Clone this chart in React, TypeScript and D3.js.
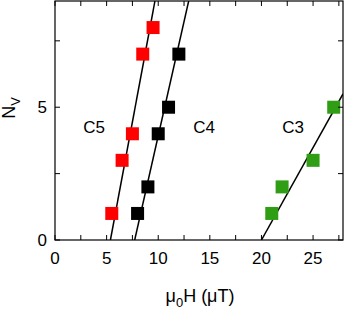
import React from "react";
import * as d3 from "d3";

// data: field (uT) vs vortex number
const c5Field = [5.5, 6.5, 7.5, 8.5, 9.5];
const c5N = [1, 3, 4, 7, 8];
const c4Field = [8, 9, 10, 11, 12];
const c4N = [1, 2, 4, 5, 7];
const c3Field = [21, 22, 25, 27];
const c3N = [1, 2, 3, 5];

// linear fits, as [field, N] end points
const c5Fit = [[5.37, 0], [9.68, 9]];
const c4Fit = [[7.72, 0], [12.95, 9]];
const c3Fit = [[20.0, 0], [27.9, 5.5]];

const xTicks = [0, 5, 10, 15, 20, 25];
const xMinor = [2.5, 7.5, 12.5, 17.5, 22.5, 27.5];
const yTicks = [0, 5];
const yMinor = [2.5, 7.5];

const W = 345;
const H = 310;
const m = { left: 55, right: 2, top: 1, bottom: 70 };

export default function App() {
  const x = d3.scaleLinear().domain([0, 27.9]).range([m.left, W - m.right]);
  const y = d3.scaleLinear().domain([0, 9]).range([H - m.bottom, m.top]);
  const line = d3.line<number[]>().x(d => x(d[0])).y(d => y(d[1]));

  const series = [
    { f: c5Field, n: c5N, fit: c5Fit, color: "#ff0000" },
    { f: c4Field, n: c4N, fit: c4Fit, color: "#000000" },
    { f: c3Field, n: c3N, fit: c3Fit, color: "#2f9e14" },
  ];
  const sq = 13;
  const tk = 5;
  const x0 = m.left, x1 = W - m.right, y0 = H - m.bottom, y1 = m.top;
  const font = "'Liberation Sans', Arial, sans-serif";

  return (
    <svg width={W} height={H} style={{ position: "absolute", left: 0, top: 0 }} fontFamily={font}>
      <defs>
        <clipPath id="plot">
          <rect x={x0} y={y1} width={x1 - x0} height={y0 - y1} />
        </clipPath>
      </defs>
      <g clipPath="url(#plot)">
        {series.map((s, i) => (
          <path key={"l" + i} d={line(s.fit) || ""} fill="none" stroke="#000" strokeWidth={1.5} />
        ))}
      </g>
      {series.map((s, i) =>
        s.f.map((v, j) => (
          <rect key={i + "-" + j} x={x(v) - sq / 2} y={y(s.n[j]) - sq / 2} width={sq} height={sq} fill={s.color} />
        ))
      )}
      <rect x={x0} y={y1} width={x1 - x0} height={y0 - y1} fill="none" stroke="#000" strokeWidth={1.2} />
      {xTicks.concat(xMinor).map(t => (
        <g key={"xt" + t}>
          <line x1={x(t)} x2={x(t)} y1={y0} y2={y0 - tk} stroke="#000" />
          <line x1={x(t)} x2={x(t)} y1={y1} y2={y1 + tk} stroke="#000" />
        </g>
      ))}
      {yTicks.concat(yMinor).map(t => (
        <g key={"yt" + t}>
          <line x1={x0} x2={x0 + tk} y1={y(t)} y2={y(t)} stroke="#000" />
          <line x1={x1} x2={x1 - tk} y1={y(t)} y2={y(t)} stroke="#000" />
        </g>
      ))}
      {xTicks.map(t => (
        <text key={"xl" + t} x={x(t)} y={y0 + 24} textAnchor="middle" fontSize={17}>{t}</text>
      ))}
      {yTicks.map(t => (
        <text key={"yl" + t} x={x0 - 8} y={y(t) + 6} textAnchor="end" fontSize={17}>{t}</text>
      ))}
      <text x={94} y={133} textAnchor="middle" fontSize={17}>C5</text>
      <text x={204} y={133} textAnchor="middle" fontSize={17}>C4</text>
      <text x={293} y={133} textAnchor="middle" fontSize={17}>C3</text>
      <text x={200} y={302} textAnchor="middle" fontSize={18}>
        μ<tspan fontSize={13} dy={5}>0</tspan><tspan dy={-5}>H (μT)</tspan>
      </text>
      <text transform="translate(15,108) rotate(-90)" textAnchor="middle" fontSize={18}>
        N<tspan fontSize={13} dy={5}>V</tspan>
      </text>
    </svg>
  );
}
